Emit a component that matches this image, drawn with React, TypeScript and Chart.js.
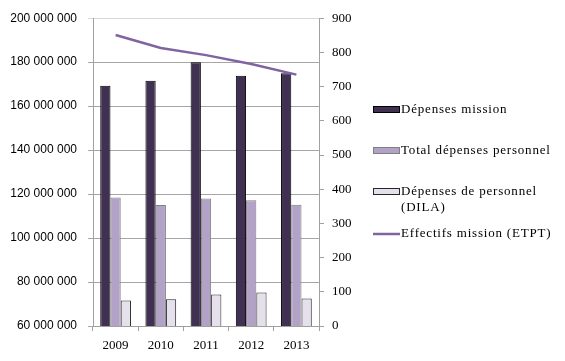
import React, { useEffect, useRef } from "react";
import { Chart, registerables } from "chart.js";

Chart.register(...registerables);

const categories = ["2009", "2010", "2011", "2012", "2013"];
const depensesMission = [169300000, 171500000, 180000000, 173800000, 175000000];
const totalPersonnel = [118400000, 115000000, 118000000, 117200000, 115200000];
const personnelDila = [71600000, 72200000, 74300000, 75200000, 72500000];
const effectifs = [851, 813, 792, 766, 735];

const legendItems = [
  { lines: ["Dépenses mission"], fill: "#403152", stroke: "#000000", type: "box" },
  { lines: ["Total dépenses personnel"], fill: "#b3a2c7", stroke: "#7f7f7f", type: "box" },
  { lines: ["Dépenses de personnel", "(DILA)"], fill: "#e6e0ec", stroke: "#262626", type: "box" },
  { lines: ["Effectifs mission (ETPT)"], fill: "#8064a2", stroke: "#8064a2", type: "line" },
];
const legendY = [110, 151, 192, 234];

const SERIF = "'Liberation Serif', 'DejaVu Serif', serif";
const SANS = "'Liberation Sans', Arial, sans-serif";

export default function App() {
  const ref = useRef<HTMLCanvasElement>(null);
  useEffect(() => {
    document.body.style.margin = "0";
    const legendPlugin = {
      id: "sideLegend",
      afterDraw(chart: any) {
        const ctx = chart.ctx;
        ctx.save();
        ctx.font = `13px ${SERIF}`;
        try {
          (ctx as any).letterSpacing = "0.8px";
        } catch (e) {}
        ctx.textBaseline = "middle";
        ctx.fillStyle = "#000";
        legendItems.forEach((it, i) => {
          const y = legendY[i];
          if (it.type === "box") {
            ctx.fillStyle = it.fill;
            ctx.fillRect(373.5, y - 3.5, 26, 6);
            ctx.strokeStyle = it.stroke;
            ctx.lineWidth = 1;
            ctx.strokeRect(373.5, y - 3.5, 26, 6);
          } else {
            ctx.strokeStyle = it.fill;
            ctx.lineWidth = 2.5;
            ctx.beginPath();
            ctx.moveTo(373, y);
            ctx.lineTo(400, y);
            ctx.stroke();
          }
          ctx.fillStyle = "#000";
          it.lines.forEach((t, j) => {
            ctx.fillText(t, 401, y + j * 16);
          });
        });
        ctx.restore();
      },
    };
    const chart = new Chart(ref.current!, {
      type: "bar",
      data: {
        labels: categories,
        datasets: [
          {
            type: "line",
            label: "Effectifs mission (ETPT)",
            data: effectifs,
            yAxisID: "y1",
            borderColor: "#8064a2",
            borderWidth: 2.5,
            pointRadius: 0,
            tension: 0,
            order: 0,
          } as any,
          {
            label: "Dépenses mission",
            data: depensesMission,
            backgroundColor: "#403152",
            borderColor: "#000000",
            borderWidth: 1,
            yAxisID: "y",
            order: 1,
          },
          {
            label: "Total dépenses personnel",
            data: totalPersonnel,
            backgroundColor: "#b3a2c7",
            borderColor: "#7f7f7f",
            borderWidth: 1,
            yAxisID: "y",
            order: 1,
          },
          {
            label: "Dépenses de personnel (DILA)",
            data: personnelDila,
            backgroundColor: "#e6e0ec",
            borderColor: "#262626",
            borderWidth: 1,
            yAxisID: "y",
            order: 1,
          },
        ],
      },
      options: {
        animation: false,
        responsive: false,
        maintainAspectRatio: false,
        datasets: { bar: { categoryPercentage: 0.68, barPercentage: 1.0 } },
        layout: { padding: { left: 0, right: 206, top: 15, bottom: 0 } },
        plugins: { legend: { display: false }, tooltip: { enabled: false } },
        scales: {
          x: {
            grid: {
              offset: true,
              drawOnChartArea: false,
              drawTicks: true,
              tickLength: 5,
              color: "#a0a0a0",
            },
            border: { color: "#a0a0a0" },
            ticks: { font: { family: SERIF, size: 13 }, color: "#000", padding: 7 },
            afterFit(s: any) {
              s.height = 35;
            },
          },
          y: {
            position: "left",
            min: 60000000,
            max: 200000000,
            grid: {
              color: (c: any) => (c.tick && c.tick.value === 200000000 ? "#d9d9d9" : "#a6a6a6"),
              tickLength: 5,
            },
            border: { color: "#a0a0a0" },
            ticks: {
              stepSize: 20000000,
              font: { family: SANS, size: 12 },
              color: "#000",
              padding: 11,
              callback: (v: any) => Number(v).toLocaleString("fr-FR").replace(/[\u202f\u00a0]/g, " "),
            },
            afterFit(s: any) {
              s.width = 93;
            },
          },
          y1: {
            position: "right",
            min: 0,
            max: 900,
            grid: { drawOnChartArea: false, tickLength: 5, color: "#a0a0a0" },
            border: { color: "#a0a0a0" },
            ticks: { stepSize: 100, font: { family: SERIF, size: 13 }, color: "#000", padding: 8 },
            afterFit(s: any) {
              s.width = 40;
            },
          },
        },
      },
      plugins: [legendPlugin],
    });
    return () => chart.destroy();
  }, []);
  return (
    <div style={{ width: 565, height: 361, background: "#fff" }}>
      <canvas ref={ref} width={565} height={361} style={{ display: "block" }} />
    </div>
  );
}
